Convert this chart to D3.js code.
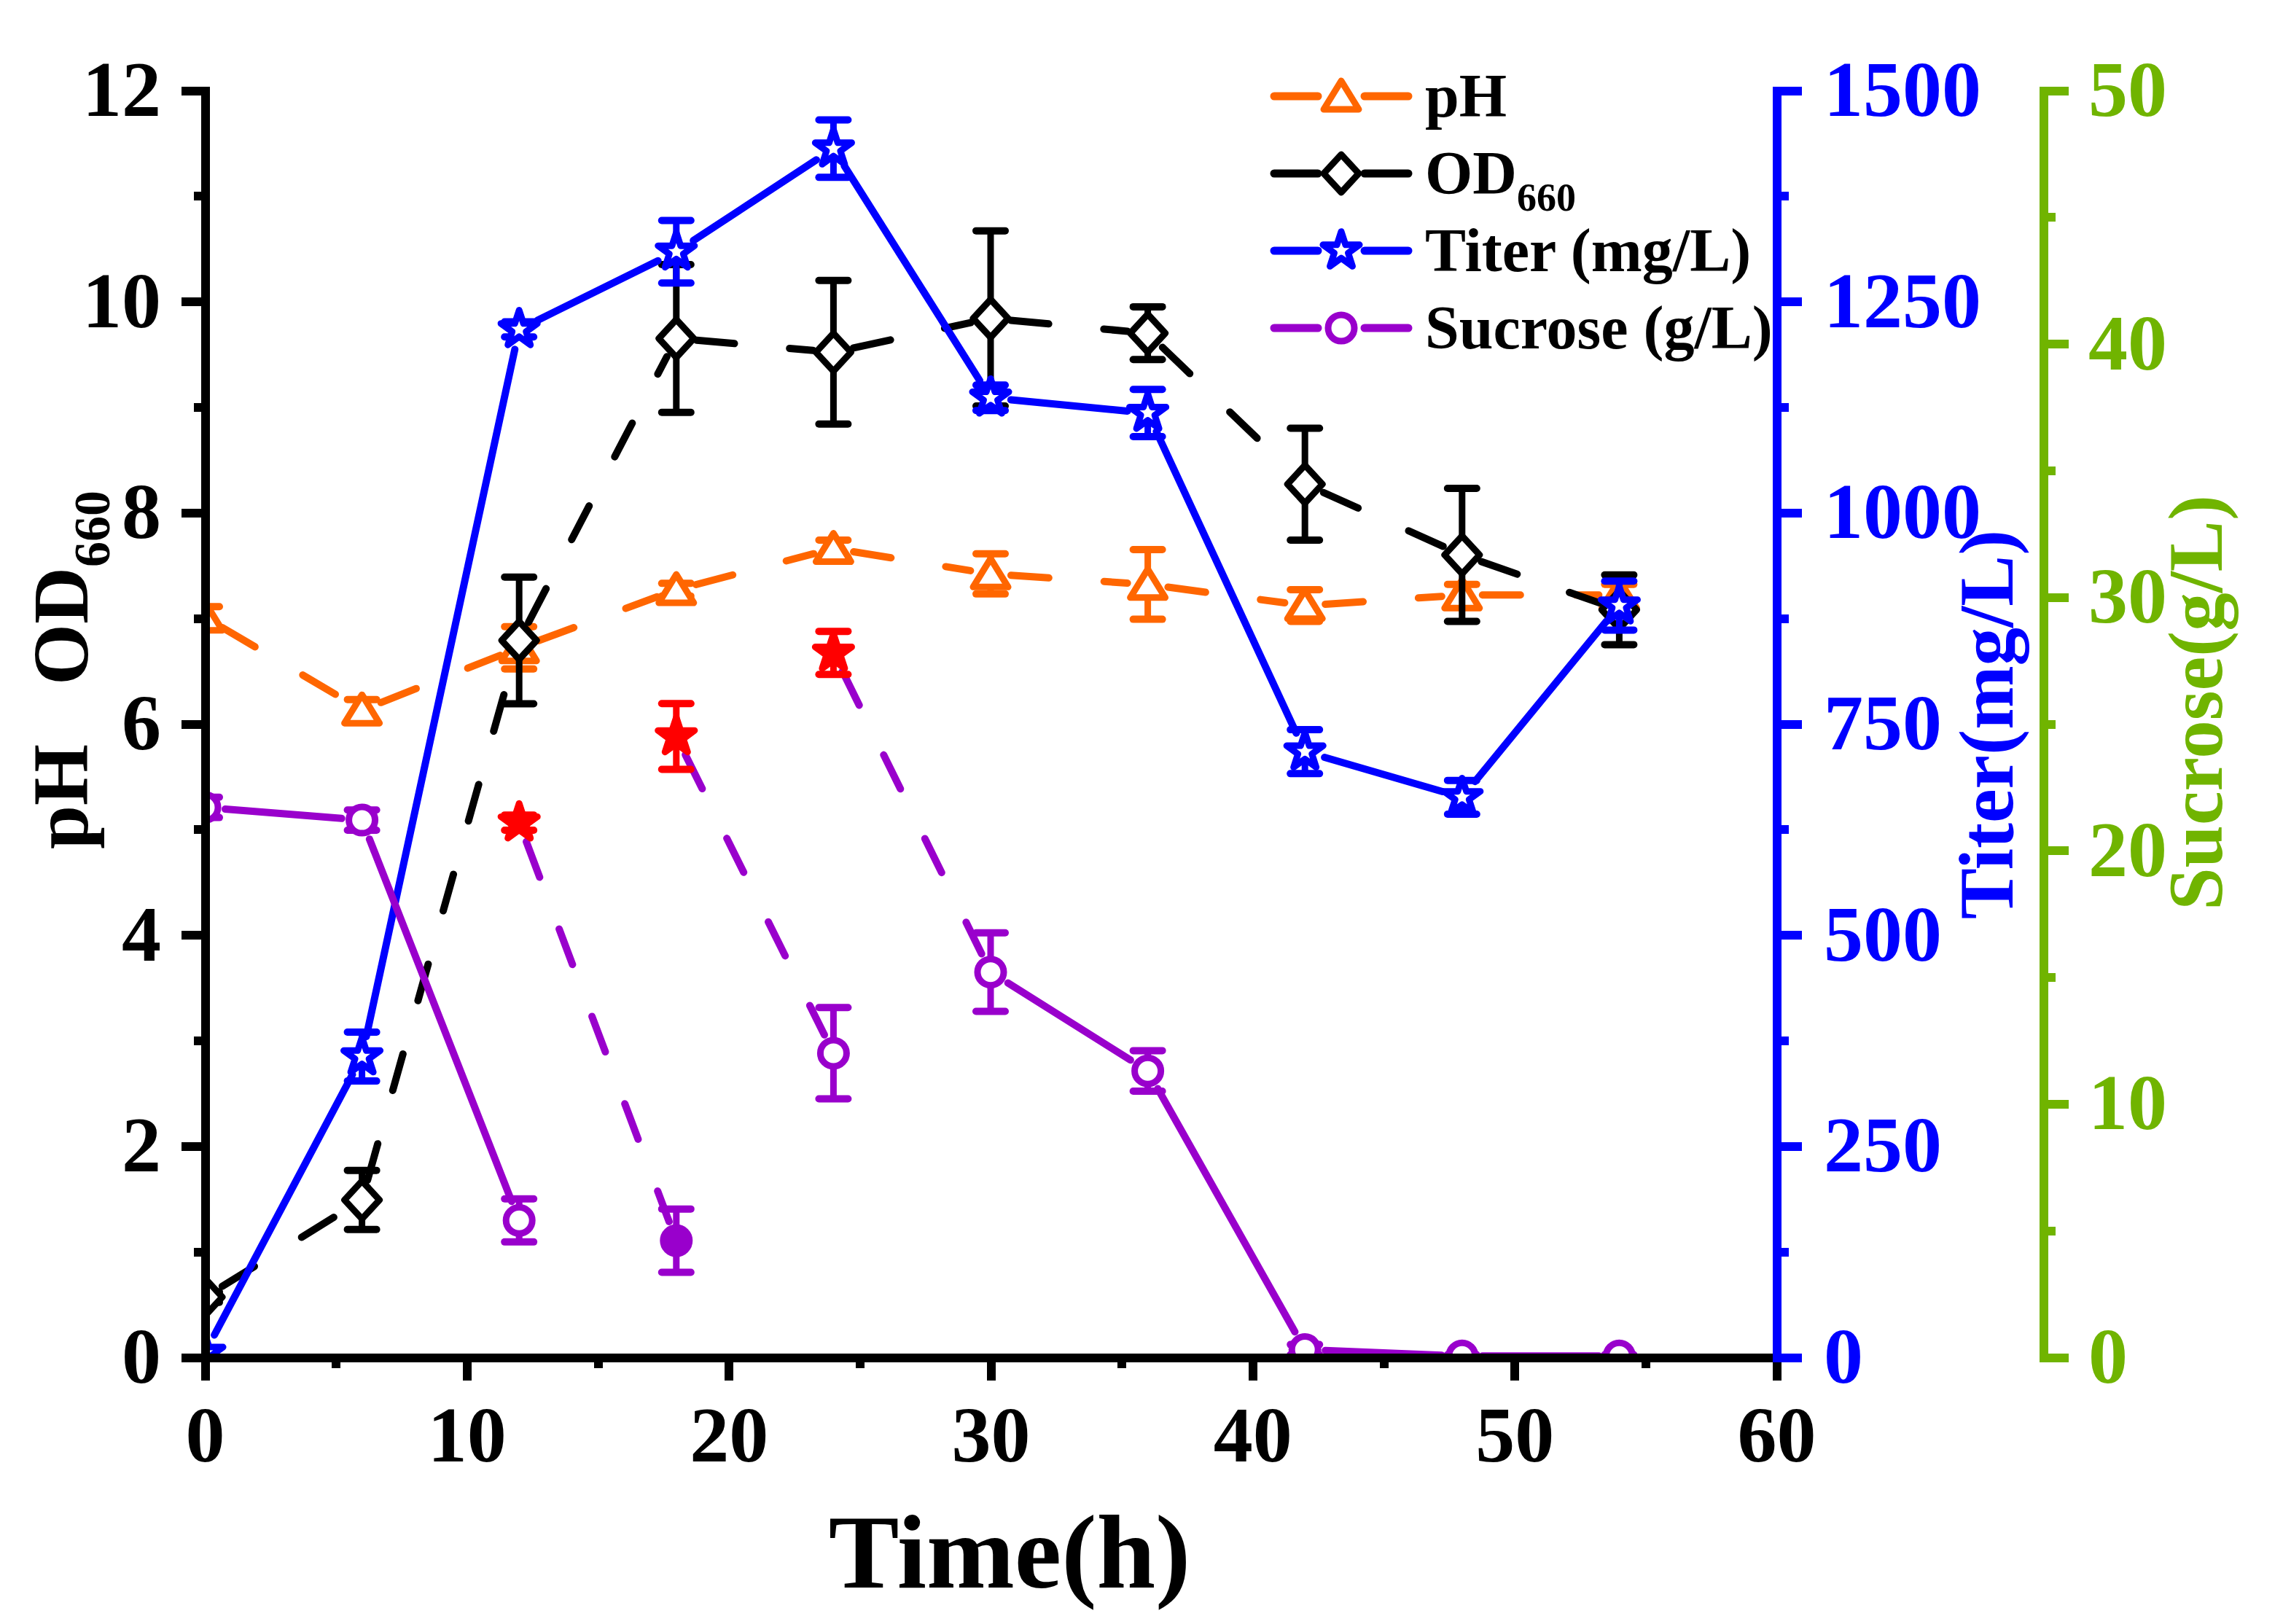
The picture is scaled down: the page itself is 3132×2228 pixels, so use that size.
<!DOCTYPE html>
<html lang="en">
<head>
<meta charset="UTF-8">
<title>Fermentation time course</title>
<style>
    body { margin: 0; background: #fff; }
    text { font-family: "Liberation Serif", "Times New Roman", serif; font-weight: bold; }
    .axis path, .axis line { stroke-width: 12px; shape-rendering: crispEdges; }
    .axis path { stroke-linecap: square; }
</style>
</head>
<body>
<div id="chart"></div>
<script src="https://d3js.org/d3.v7.min.js"></script>
<script>
    // sampling times (h)
    var time = [0, 6, 12, 18, 24, 30, 36, 42, 48, 54];

    // pH and OD660 (left axis)
    var pH = [7.01, 6.13, 6.72, 7.27, 7.66, 7.42, 7.32, 7.12, 7.22, 7.22];
    var pHErr = [0.1, 0.1, 0.2, 0.06, 0.08, 0.19, 0.33, 0.15, 0.1, 0.1];
    var od = [0.57, 1.49, 6.79, 9.65, 9.52, 9.84, 9.70, 8.27, 7.60, 7.08];
    var odErr = [0.05, 0.28, 0.6, 0.7, 0.68, 0.83, 0.25, 0.53, 0.63, 0.33];

    // titer mg/L (blue axis)
    var titer = [5, 356, 1217, 1309, 1431, 1136, 1118, 717, 663, 890];
    var titerErr = [5, 29, 9, 37, 34, 15, 28, 26, 20, 29];

    // sucrose g/L (green axis)
    var sucrose = [21.7, 21.2, 5.4, 4.6, 12.0, 15.2, 11.3, 0.3, 0.05, 0.05];
    var sucroseErr = [0.4, 0.4, 0.85, 1.25, 1.8, 1.55, 0.8, 0.2, 0.05, 0.05];
    var solidMarkerTime = 18;

    // sucrose right after feeding (red stars)
    var feedTime = [12, 18, 24];
    var feedSucrose = [21.1, 24.5, 27.8];
    var feedErr = [0.3, 1.3, 0.85];

    var leftTicks = [0, 2, 4, 6, 8, 10, 12],
        timeTicks = [0, 10, 20, 30, 40, 50, 60],
        titerTicks = [0, 250, 500, 750, 1000, 1250, 1500],
        sucroseTicks = [0, 10, 20, 30, 40, 50];

    var width = 3132, height = 2228;
    var plotLeft = 281, plotRight = 2437, plotTop = 124, plotBottom = 1862;
    var orange = "#FF6600", blue = "#0000FF", purple = "#9900CC", green = "#70B400", red = "#FF0000";

    var svg = d3.select("#chart").append("svg")
        .attr("width", width)
        .attr("height", height);

    var x = d3.scaleLinear().domain([0, 60]).range([plotLeft, plotRight]),
        y = d3.scaleLinear().domain([0, 12]).range([plotBottom, plotTop]),
        yTiter = d3.scaleLinear().domain([0, 1500]).range([plotBottom, plotTop]),
        ySuc = d3.scaleLinear().domain([0, 50]).range([plotBottom, plotTop]);

    svg.append("clipPath").attr("id", "plotArea")
        .append("rect")
        .attr("x", plotLeft).attr("y", plotTop)
        .attr("width", plotRight - plotLeft).attr("height", plotBottom - plotTop);

    var plot = svg.append("g").attr("clip-path", "url(#plotArea)");

    function markerPath(shape) {
        if (shape == "triangle") return "M0,-21L24,18L-24,18Z";
        if (shape == "diamond") return "M0,-26L24,0L0,26L-24,0Z";
        if (shape == "star") return d3.symbol(d3.symbolStar, 780)();
        return d3.symbol(d3.symbolCircle, Math.PI * 18 * 18)();
    }

    // line between two points, stopped short of the symbols
    function gapSegment(p, q, gap) {
        var dx = q[0] - p[0], dy = q[1] - p[1], len = Math.sqrt(dx * dx + dy * dy);
        if (len <= 2 * gap) return null;
        var ux = dx / len, uy = dy / len;
        return [[p[0] + ux * gap, p[1] + uy * gap], [q[0] - ux * gap, q[1] - uy * gap]];
    }

    function drawSegment(g, p, q, color, dashed) {
        var s = gapSegment(p, q, 28);
        if (!s) return;
        g.append("path")
            .attr("d", d3.line()(s))
            .attr("fill", "none")
            .attr("stroke", color)
            .attr("stroke-width", 10)
            .attr("stroke-linecap", "round")
            .attr("stroke-dasharray", dashed ? "52 76" : null);
    }

    function drawErrors(g, ts, vals, errs, scale, color) {
        ts.forEach(function (t, i) {
            var cx = x(t), y1 = scale(vals[i] + errs[i]), y2 = scale(vals[i] - errs[i]);
            g.append("line").attr("x1", cx).attr("x2", cx).attr("y1", y1).attr("y2", y2)
                .attr("stroke", color).attr("stroke-width", 9);
            [y1, y2].forEach(function (yy) {
                g.append("line").attr("x1", cx - 20).attr("x2", cx + 20).attr("y1", yy).attr("y2", yy)
                    .attr("stroke", color).attr("stroke-width", 10).attr("stroke-linecap", "round");
            });
        });
    }

    function drawMarkers(g, ts, vals, scale, color, shape, fillFn) {
        g.selectAll(null)
            .data(ts)
            .enter().append("path")
            .attr("transform", function (t, i) { return "translate(" + x(t) + "," + scale(vals[i]) + ")"; })
            .attr("d", markerPath(shape))
            .attr("fill", function (t, i) { return fillFn ? fillFn(t, i) : "#fff"; })
            .attr("stroke", color)
            .attr("stroke-width", 9)
            .attr("stroke-linejoin", "round");
    }

    function drawSeries(ts, vals, errs, scale, color, dashed, shape) {
        var g = plot.append("g");
        for (var i = 0; i < ts.length - 1; i++) {
            drawSegment(g, [x(ts[i]), scale(vals[i])], [x(ts[i + 1]), scale(vals[i + 1])], color, dashed);
        }
        drawErrors(g, ts, vals, errs, scale, color);
        drawMarkers(g, ts, vals, scale, color, shape);
    }

    drawSeries(time, pH, pHErr, y, orange, true, "triangle");
    drawSeries(time, od, odErr, y, "#000", true, "diamond");
    drawSeries(time, titer, titerErr, yTiter, blue, false, "star");

    // sucrose: solid between samples, dashed from each feeding point
    var sucG = plot.append("g");
    for (var i = 0; i < time.length - 1; i++) {
        var f = feedTime.indexOf(time[i]);
        if (f >= 0) {
            drawSegment(sucG, [x(feedTime[f]), ySuc(feedSucrose[f])], [x(time[i + 1]), ySuc(sucrose[i + 1])], purple, true);
        } else {
            drawSegment(sucG, [x(time[i]), ySuc(sucrose[i])], [x(time[i + 1]), ySuc(sucrose[i + 1])], purple, false);
        }
    }
    drawErrors(sucG, time, sucrose, sucroseErr, ySuc, purple);
    drawMarkers(sucG, time, sucrose, ySuc, purple, "circle", function (t) {
        return t == solidMarkerTime ? purple : "#fff";
    });
    drawErrors(sucG, feedTime, feedSucrose, feedErr, ySuc, red);
    drawMarkers(sucG, feedTime, feedSucrose, ySuc, red, "star", function () { return red; });

    // axes
    function styleAxis(g, color, size) {
        g.attr("class", "axis");
        g.selectAll(".domain").attr("stroke", color);
        g.selectAll("line").attr("stroke", color);
        g.selectAll("text")
            .attr("fill", color)
            .style("font-size", size + "px");
    }

    var leftAxis = svg.append("g").attr("transform", "translate(" + plotLeft + ",0)");
    leftAxis.append("g").call(d3.axisLeft(y).tickValues(d3.range(1, 12, 2)).tickSize(15).tickSizeOuter(0).tickFormat(""));
    leftAxis.append("g").call(d3.axisLeft(y).tickValues(leftTicks).tickSize(32).tickSizeOuter(0).tickPadding(28));
    styleAxis(leftAxis, "#000", 108);

    var bottomAxis = svg.append("g").attr("transform", "translate(0," + plotBottom + ")");
    bottomAxis.append("g").call(d3.axisBottom(x).tickValues(d3.range(5, 60, 10)).tickSize(15).tickSizeOuter(0).tickFormat(""));
    bottomAxis.append("g").call(d3.axisBottom(x).tickValues(timeTicks).tickSize(32).tickSizeOuter(0).tickPadding(34));
    styleAxis(bottomAxis, "#000", 108);

    var titerAxis = svg.append("g").attr("transform", "translate(" + plotRight + ",0)");
    titerAxis.append("g").call(d3.axisRight(yTiter).tickValues(d3.range(125, 1500, 250)).tickSize(17).tickSizeOuter(0).tickFormat(""));
    titerAxis.append("g").call(d3.axisRight(yTiter).tickValues(titerTicks).tickSize(35).tickSizeOuter(0).tickPadding(30).tickFormat(d3.format("d")));
    styleAxis(titerAxis, blue, 108);

    var sucAxis = svg.append("g").attr("transform", "translate(2803,0)");
    sucAxis.append("g").call(d3.axisRight(ySuc).tickValues(d3.range(5, 50, 10)).tickSize(17).tickSizeOuter(0).tickFormat(""));
    sucAxis.append("g").call(d3.axisRight(ySuc).tickValues(sucroseTicks).tickSize(35).tickSizeOuter(0).tickPadding(27));
    styleAxis(sucAxis, green, 108);

    // axis titles
    var leftTitle = svg.append("text")
        .attr("transform", "translate(120,919) rotate(-90)")
        .attr("text-anchor", "middle")
        .style("font-size", "108px");
    leftTitle.append("tspan").text("pH\u00a0\u00a0\u00a0OD");
    leftTitle.append("tspan").attr("dy", 30).style("font-size", "70px").text("660");

    svg.append("text")
        .attr("transform", "translate(2761,994) rotate(-90)")
        .attr("text-anchor", "middle")
        .attr("fill", blue)
        .style("font-size", "105px")
        .text("Titer(mg/L)");

    svg.append("text")
        .attr("transform", "translate(3048,964) rotate(-90)")
        .attr("text-anchor", "middle")
        .attr("fill", green)
        .style("font-size", "105px")
        .text("Sucrose(g/L)");

    svg.append("text")
        .attr("x", 1385)
        .attr("y", 2178)
        .attr("text-anchor", "middle")
        .style("font-size", "145px")
        .text("Time(h)");

    // legend
    var legendItems = [
        {name: "pH", sub: "", color: orange, shape: "triangle"},
        {name: "OD", sub: "660", color: "#000", shape: "diamond"},
        {name: "Titer (mg/L)", sub: "", color: blue, shape: "star"},
        {name: "Sucrose (g/L)", sub: "", color: purple, shape: "circle"}
    ];

    var legend = svg.append("g").attr("class", "legend")
        .selectAll("g")
        .data(legendItems)
        .enter().append("g")
        .attr("transform", function (d, i) { return "translate(1840," + (132 + i * 106) + ")"; });

    legend.each(function (d) {
        var g = d3.select(this);
        [[-92, -32], [32, 92]].forEach(function (s) {
            g.append("line")
                .attr("x1", s[0]).attr("x2", s[1])
                .attr("stroke", d.color)
                .attr("stroke-width", 11)
                .attr("stroke-linecap", "round");
        });
        g.append("path")
            .attr("d", markerPath(d.shape))
            .attr("fill", "#fff")
            .attr("stroke", d.color)
            .attr("stroke-width", 9)
            .attr("stroke-linejoin", "round");
        var t = g.append("text")
            .attr("x", 115)
            .attr("y", 28)
            .style("font-size", "84px");
        t.append("tspan").text(d.name);
        if (d.sub) {
            t.append("tspan").attr("dy", 23).style("font-size", "54px").text(d.sub);
        }
    });
</script>
</body>
</html>
